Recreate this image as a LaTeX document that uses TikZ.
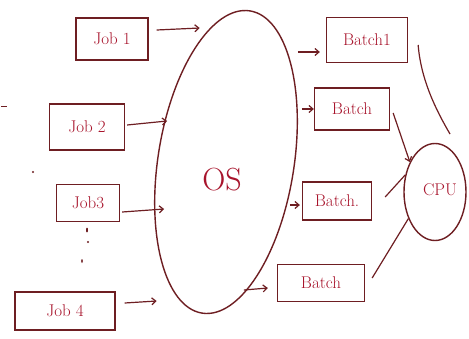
\documentclass[tikz,border=0pt]{standalone}
\usetikzlibrary{shapes.geometric,arrows.meta}
\definecolor{ink}{HTML}{6E1E22}
\definecolor{txt}{HTML}{A8142C}
\begin{document}
\begin{tikzpicture}[x=1pt,y=-1pt,
  box/.style={draw=ink,line width=1.3pt,inner sep=0pt,text=txt,font=\fontsize{17}{19}\selectfont},
  conn/.style={draw=ink,line width=1.2pt},
  arr/.style={conn,-{Straight Barb[length=4pt,width=7pt]}}]
\useasboundingbox[fill=white] (0,0) rectangle (469,338);
% jobs
\node[box,minimum width=72pt,minimum height=42pt] (j1) at (112,39) {Job 1};
\node[box,minimum width=75pt,minimum height=46pt] (j2) at (87,127) {Job 2};
\node[box,minimum width=63pt,minimum height=37pt] (j3) at (88,203) {Job3};
\node[box,minimum width=100pt,minimum height=38pt] (j4) at (65,311) {Job 4};
% OS
\node[draw=ink,line width=1.4pt,ellipse,minimum width=136pt,minimum height=306pt,rotate=-9] (os) at (226,162) {};
\node[text=txt,font=\fontsize{32}{34}\selectfont] (oslabel) at (222,180) {OS};
% batches
\node[box,minimum width=81pt,minimum height=45pt] (b1) at (367,40) {Batch1};
\node[box,minimum width=75pt,minimum height=42pt] (b2) at (352,109) {Batch};
\node[box,minimum width=69pt,minimum height=38pt] (b3) at (337,201) {Batch.};
\node[box,minimum width=87pt,minimum height=37pt] (b4) at (321,283) {Batch};
% CPU
\node[draw=ink,line width=1.4pt,ellipse,minimum width=62pt,minimum height=97pt] (cpu) at (435,192) {};
\node[text=txt,font=\fontsize{17}{19}\selectfont] (cpulabel) at (440,190) {CPU};
% job arrows
\draw[arr] (j1.east) ++(8,-9) coordinate (j1s) -- ++(43,-2);
\draw[arr] (j2.east) ++(2,-2) coordinate (j2s) -- ++(40,-4);
\draw[arr] (j3.east) ++(2,9) coordinate (j3s) -- ++(42,-3);
\draw[arr] (j4.east) ++(9,-8) coordinate (j4s) -- ++(32,-2);
% OS to batches
\draw[arr] (b1.west) ++(-28,12) coordinate (b1s) -- ++(22,0);
\draw[arr] (b2.west) ++(-12,0) coordinate (b2s) -- (b2.west);
\draw[arr] (b3.west) ++(-12,4) coordinate (b3s) -- ++(10,0);
\draw[arr] (b4.west) ++(-33,7) coordinate (b4s) -- ++(24,-2);
% batches to CPU
\coordinate (cputop) at (450,134);
\draw[conn] (b1.east) ++(10,5) .. controls (421,80) and (436,110) .. (cputop);
\draw[arr] (b2.east) ++(3,4) -- (cpu.130);
\draw[conn] (b3.east) ++(13,-4) -- (cpu.150);
\draw[conn] (b4.east) ++(7,-5) -- (cpu.225);
% dots below job 3
\fill[ink] (87,230) ellipse (1pt and 2.5pt);
\fill[ink] (88,242) circle (1.1pt);
\fill[ink] (82,261) ellipse (0.8pt and 2pt);
% stray marks
\draw[ink,line width=1pt] (1,106) -- (7,106);
\fill[ink] (33,172) circle (1.1pt);
\end{tikzpicture}
\end{document}
